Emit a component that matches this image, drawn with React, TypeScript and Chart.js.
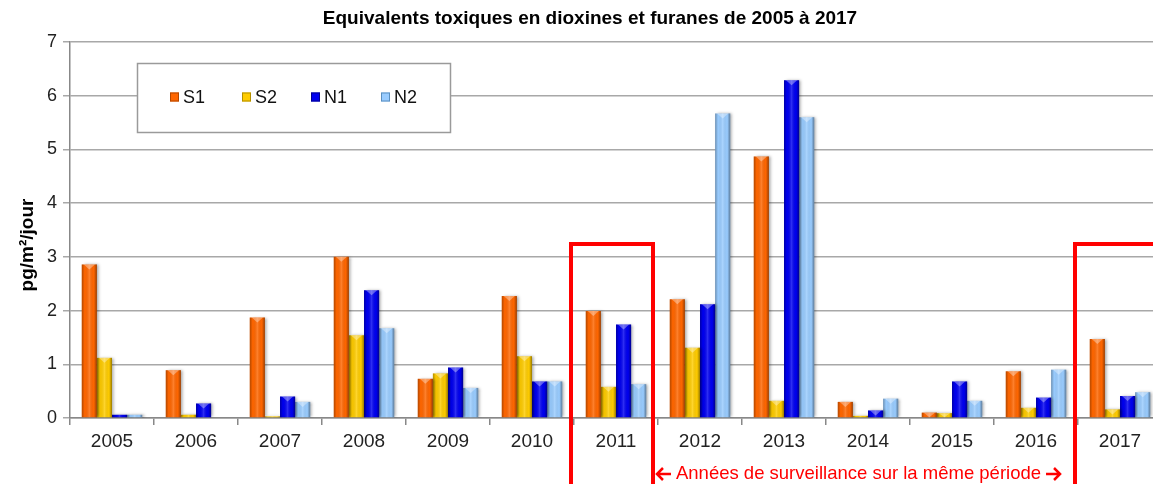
import React, { useEffect, useRef } from "react";
import { Chart, registerables } from "chart.js";

Chart.register(...registerables);

const years = ["2005", "2006", "2007", "2008", "2009", "2010", "2011", "2012", "2013", "2014", "2015", "2016", "2017"];
const s1 = [2.86, 0.89, 1.87, 3.0, 0.73, 2.27, 1.99, 2.21, 4.87, 0.3, 0.1, 0.87, 1.47];
const s2 = [1.12, 0.06, 0.03, 1.54, 0.83, 1.15, 0.58, 1.31, 0.32, 0.04, 0.09, 0.19, 0.16];
const n1 = [0.06, 0.27, 0.4, 2.38, 0.94, 0.68, 1.74, 2.12, 6.29, 0.14, 0.68, 0.38, 0.41];
const n2 = [0.06, 0, 0.3, 1.67, 0.56, 0.68, 0.63, 5.67, 5.6, 0.36, 0.32, 0.9, 0.48];
const seriesNames = ["S1", "S2", "N1", "N2"];
const seriesColors = ["#ff6600", "#ffcc00", "#0000f0", "#99ccff"];
const seriesEdges = ["#b34700", "#b38f00", "#00008f", "#5a8fbf"];
const titleText = "Equivalents toxiques en dioxines et furanes de 2005 à 2017";
const yAxisTitle = "pg/m²/jour";
const noteText = "Années de surveillance sur la même période";
const highlightYears = ["2011", "2017"];
const highlightTop = 3.24;

const FONT = "'Liberation Sans', Arial, sans-serif";

const decor = {
  id: "decor",
  beforeDatasetsDraw(chart: any) {
    const ctx = chart.ctx;
    ctx.save();
    ctx.shadowColor = "rgba(0,0,0,0.35)";
    ctx.shadowBlur = 3;
    ctx.shadowOffsetX = 2;
    ctx.shadowOffsetY = 0;
  },
  afterDatasetsDraw(chart: any) {
    const ctx = chart.ctx;
    ctx.restore();
    chart.data.datasets.forEach((_: any, di: number) => {
      const meta = chart.getDatasetMeta(di);
      meta.data.forEach((el: any) => {
        const h = el.base - el.y;
        if (h < 0.5) return;
        const left = el.x - el.width / 2;
        const right = el.x + el.width / 2;
        const g = ctx.createLinearGradient(left, 0, right, 0);
        g.addColorStop(0, "rgba(0,0,0,0.30)");
        g.addColorStop(0.2, "rgba(0,0,0,0)");
        g.addColorStop(0.5, "rgba(255,255,255,0.18)");
        g.addColorStop(0.8, "rgba(0,0,0,0)");
        g.addColorStop(1, "rgba(0,0,0,0.40)");
        ctx.save();
        ctx.fillStyle = g;
        ctx.fillRect(left, el.y, el.width, h);
        if (h > 4) {
          ctx.beginPath();
          ctx.moveTo(left + 2, el.y);
          ctx.lineTo(right - 2, el.y);
          ctx.lineTo(el.x, el.y + Math.min(5, h));
          ctx.closePath();
          ctx.fillStyle = "rgba(255,255,255,0.35)";
          ctx.fill();
        }
        ctx.restore();
      });
    });
  },
  afterDraw(chart: any) {
    const ctx = chart.ctx;
    const xs = chart.scales.x;
    const ys = chart.scales.y;
    const H = chart.height;

    // chart title
    ctx.save();
    ctx.font = `bold 19px ${FONT}`;
    ctx.fillStyle = "#000";
    ctx.textAlign = "center";
    ctx.textBaseline = "middle";
    ctx.fillText(titleText, 590, 19);
    ctx.restore();

    // y axis title
    ctx.save();
    ctx.translate(28, 245);
    ctx.rotate(-Math.PI / 2);
    ctx.font = `bold 19px ${FONT}`;
    ctx.fillStyle = "#000";
    ctx.textAlign = "center";
    ctx.textBaseline = "middle";
    ctx.fillText(yAxisTitle, 0, 0);
    ctx.restore();

    // legend
    ctx.save();
    ctx.fillStyle = "#ffffff";
    ctx.strokeStyle = "#9a9a9a";
    ctx.lineWidth = 1.5;
    ctx.fillRect(137.5, 63.5, 313, 69);
    ctx.strokeRect(137.5, 63.5, 313, 69);
    const lx = [170, 242, 311, 381];
    const ly = 97;
    ctx.font = `18px ${FONT}`;
    ctx.textBaseline = "middle";
    ctx.textAlign = "left";
    seriesNames.forEach((name, i) => {
      ctx.fillStyle = seriesColors[i];
      ctx.fillRect(lx[i], ly - 4.5, 9, 9);
      ctx.strokeStyle = seriesEdges[i];
      ctx.lineWidth = 1;
      ctx.strokeRect(lx[i] + 0.5, ly - 4, 8, 8);
      ctx.fillStyle = "#111";
      ctx.fillText(name, lx[i] + 13, ly + 1);
    });
    ctx.restore();

    // red highlight boxes
    const half = (xs.getPixelForValue(1) - xs.getPixelForValue(0)) / 2;
    const top = ys.getPixelForValue(highlightTop);
    ctx.save();
    ctx.strokeStyle = "#ff0000";
    ctx.lineWidth = 4;
    ctx.lineJoin = "miter";
    const boxes: number[][] = [];
    highlightYears.forEach((yr) => {
      const c = xs.getPixelForValue(years.indexOf(yr));
      const x1 = c - half - 3;
      const x2 = c + half - 5;
      boxes.push([x1, x2]);
      ctx.beginPath();
      ctx.moveTo(x1, H + 10);
      ctx.lineTo(x1, top);
      ctx.lineTo(x2, top);
      ctx.lineTo(x2, H + 10);
      ctx.stroke();
    });
    ctx.restore();

    // annotation with arrows
    const a = boxes[0][1] + 3;
    const b = boxes[1][0] - 14;
    const mid = (a + b) / 2;
    const ty = 474;
    ctx.save();
    ctx.font = `18.5px ${FONT}`;
    ctx.fillStyle = "#ff0000";
    ctx.textAlign = "center";
    ctx.textBaseline = "middle";
    ctx.fillText(noteText, mid, ty);
    const w = ctx.measureText(noteText).width;
    ctx.strokeStyle = "#ff0000";
    ctx.lineWidth = 2.5;
    const drawArrow = (from: number, to: number) => {
      const dir = Math.sign(to - from);
      ctx.beginPath();
      ctx.moveTo(from, ty);
      ctx.lineTo(to, ty);
      ctx.moveTo(to - dir * 6, ty - 6);
      ctx.lineTo(to, ty);
      ctx.lineTo(to - dir * 6, ty + 6);
      ctx.stroke();
    };
    drawArrow(mid - w / 2 - 5, mid - w / 2 - 19);
    drawArrow(mid + w / 2 + 5, mid + w / 2 + 19);
    ctx.restore();
  },
};

export default function App() {
  const ref = useRef<HTMLCanvasElement | null>(null);
  useEffect(() => {
    if (!ref.current) return;
    const chart = new Chart(ref.current, {
      type: "bar",
      data: {
        labels: years,
        datasets: [s1, s2, n1, n2].map((d, i) => ({
          label: seriesNames[i],
          data: d,
          backgroundColor: seriesColors[i],
          borderColor: seriesEdges[i],
          borderWidth: 0,
          barPercentage: 1.0,
          categoryPercentage: 0.72,
        })),
      },
      options: {
        responsive: false,
        animation: false,
        layout: { padding: { left: 0, right: 36, top: 42, bottom: 0 } },
        plugins: {
          legend: { display: false },
          tooltip: { enabled: false },
          title: { display: false },
        },
        scales: {
          x: {
            offset: true,
            grid: { offset: true, drawOnChartArea: false, drawTicks: true, tickLength: 7, color: "#888", lineWidth: 1.5 },
            border: { display: true, color: "#888", width: 1.5 },
            ticks: { color: "#222", font: { family: FONT, size: 19 }, padding: 5, maxRotation: 0 },
            afterFit: (scale: any) => {
              scale.height = 66;
            },
          },
          y: {
            min: 0,
            max: 7,
            ticks: { stepSize: 1, color: "#222", font: { family: FONT, size: 18 }, padding: 6 },
            grid: { color: "#a8a8a8", lineWidth: 1.5, tickLength: 7 },
            border: { display: true, color: "#888", width: 1.5 },
            title: { display: false },
            afterFit: (scale: any) => {
              scale.width = 70;
            },
          },
        },
      },
      plugins: [decor],
    } as any);
    return () => chart.destroy();
  }, []);
  return (
    <div style={{ position: "absolute", left: 0, top: 0, width: 1153, height: 484, overflow: "hidden", background: "#fff" }}>
      <canvas ref={ref} width={1198} height={484} style={{ display: "block" }} />
    </div>
  );
}
